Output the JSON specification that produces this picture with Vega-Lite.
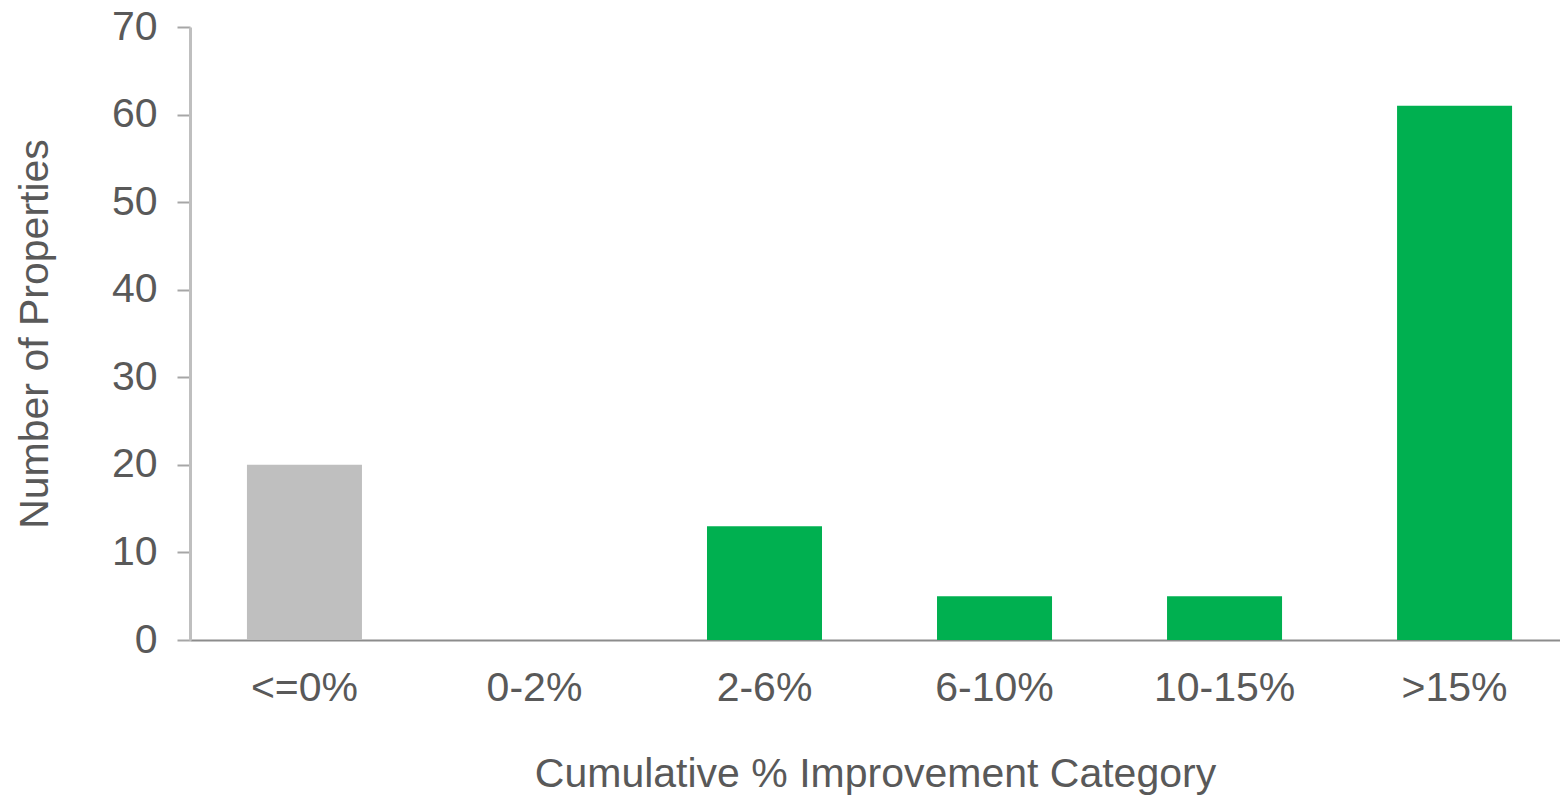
{
  "$schema": "https://vega.github.io/schema/vega-lite/v6.json",
  "width": 1370,
  "height": 613,
  "autosize": {"type": "none"},
  "padding": {"left": 190, "top": 27, "right": 0, "bottom": 155},
  "background": "white",
  "config": {
    "view": {"stroke": null},
    "font": "Liberation Sans"
  },
  "data": {
    "values": [
      {"category": "<=0%", "count": 20, "group": "none"},
      {"category": "0-2%", "count": 0, "group": "improved"},
      {"category": "2-6%", "count": 13, "group": "improved"},
      {"category": "6-10%", "count": 5, "group": "improved"},
      {"category": "10-15%", "count": 5, "group": "improved"},
      {"category": ">15%", "count": 61, "group": "improved"}
    ]
  },
  "mark": {"type": "bar"},
  "encoding": {
    "x": {
      "field": "category",
      "type": "nominal",
      "sort": null,
      "scale": {"paddingInner": 0.5, "paddingOuter": 0.228, "align": 0.543},
      "axis": {
        "title": "Cumulative % Improvement Category",
        "labelAngle": 0,
        "labelFontSize": 41,
        "labelColor": "#595959",
        "labelPadding": 28,
        "ticks": false,
        "domainColor": "#8c8c8c",
        "domainWidth": 2,
        "titleFontSize": 41,
        "titleFontWeight": "normal",
        "titleColor": "#595959",
        "titlePadding": 46
      }
    },
    "y": {
      "field": "count",
      "type": "quantitative",
      "scale": {"domain": [0, 70]},
      "axis": {
        "title": "Number of Properties",
        "values": [0, 10, 20, 30, 40, 50, 60, 70],
        "grid": false,
        "labelFontSize": 41,
        "labelColor": "#595959",
        "labelPadding": 20,
        "tickSize": 13,
        "tickColor": "#a6a6a6",
        "tickWidth": 2,
        "domainColor": "#bfbfbf",
        "domainWidth": 3,
        "titleFontSize": 41,
        "titleFontWeight": "normal",
        "titleColor": "#595959",
        "titlePadding": 55
      }
    },
    "color": {
      "field": "group",
      "type": "nominal",
      "scale": {"domain": ["none", "improved"], "range": ["#bfbfbf", "#00b050"]},
      "legend": null
    }
  }
}
